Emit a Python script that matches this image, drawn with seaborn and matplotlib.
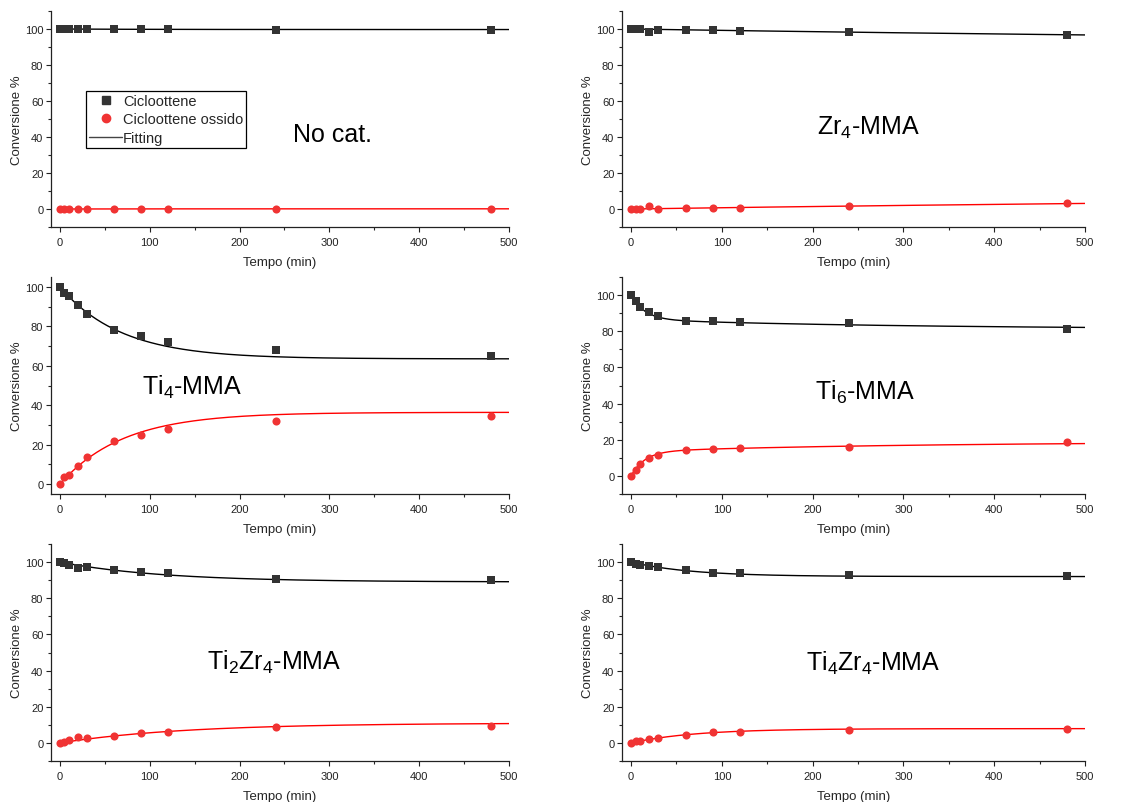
import numpy as np
import pandas as pd
import matplotlib
matplotlib.use("Agg")
import matplotlib.pyplot as plt
from matplotlib.lines import Line2D
from matplotlib.ticker import MultipleLocator
import seaborn as sns

# ---------------- data ----------------
tempo = [0, 5, 10, 20, 30, 60, 90, 120, 240, 480]

panel_labels = ["No cat.", r"Zr$\mathregular{_4}$-MMA",
                r"Ti$\mathregular{_4}$-MMA", r"Ti$\mathregular{_6}$-MMA",
                r"Ti$\mathregular{_2}$Zr$\mathregular{_4}$-MMA",
                r"Ti$\mathregular{_4}$Zr$\mathregular{_4}$-MMA"]

cicloottene = [
    [100, 100, 100, 100, 100, 100, 100, 100, 99.6, 99.6],
    [100, 100, 99.8, 98.2, 99.7, 99.5, 99.4, 99.0, 98.3, 96.6],
    [100, 97.0, 95.4, 90.9, 86.1, 78.3, 75.3, 72.1, 67.9, 65.1],
    [100, 96.9, 93.5, 90.6, 88.6, 85.6, 85.4, 84.9, 84.5, 81.2],
    [100, 99.3, 98.5, 97.0, 97.2, 95.8, 94.5, 93.9, 90.8, 90.2],
    [100, 99.1, 98.5, 98.0, 97.2, 95.4, 94.1, 93.7, 92.6, 92.1],
]
ossido = [
    [0, 0, 0, 0, 0, 0, 0, 0, 0.2, 0.2],
    [0, 0, 0, 1.6, 0.1, 0.3, 0.3, 0.8, 1.4, 3.3],
    [0, 3.6, 4.6, 9.1, 14.0, 21.8, 24.9, 28.1, 32.0, 34.7],
    [0, 3.3, 6.8, 9.8, 11.8, 14.6, 14.9, 15.3, 15.9, 19.0],
    [0, 0.7, 1.5, 3.0, 2.8, 4.1, 5.5, 6.1, 9.0, 9.6],
    [0, 0.9, 1.3, 2.2, 2.6, 4.6, 5.9, 6.3, 7.4, 7.9],
]

# fitting parameters: y = C + A1*exp(-t/t1) + A2*exp(-t/t2)
fit_cicloottene = [
    (99.7, 0.3, 100, 0, 1),
    (90.0, 10.0, 1250, 0, 1),
    (63.5, 36.5, 68, 0, 1),
    (81.1, 13.5, 15, 5.4, 300),
    (89.0, 11.0, 115, 0, 1),
    (92.0, 8.0, 67, 0, 1),
]
fit_ossido = [
    (0.1, -0.1, 100, 0, 1),
    (10.0, -10.0, 1350, 0, 1),
    (36.4, -36.4, 70, 0, 1),
    (18.9, -13.5, 15, -5.4, 300),
    (11.0, -11.0, 140, 0, 1),
    (7.9, -7.9, 71, 0, 1),
]

ylims = [(-10, 110), (-10, 110), (-5, 105), (-10, 110), (-10, 110), (-10, 110)]
label_pos = [(303, 41.7), (262, 45.6), (147, 49.4), (258, 46.7), (239, 45.2), (267, 44.7)]

# ---------------- style ----------------
sns.set_style("ticks")
plt.rcParams["font.family"] = ["Liberation Sans", "DejaVu Sans"]
plt.rcParams["mathtext.fontset"] = "custom"
plt.rcParams["mathtext.rm"] = "Liberation Sans"
plt.rcParams["mathtext.it"] = "Liberation Sans:italic"
plt.rcParams["mathtext.bf"] = "Liberation Sans:bold"

sq_color = "#333333"
red_color = "#f03333"

W, H = 1134, 803
fig = plt.figure(figsize=(W / 100, H / 100), dpi=100)

cols = [(51, 509), (622, 1085)]
rows = [(12, 228), (278, 495), (545, 762)]

t_fit = np.linspace(0, 500, 501)


def model(p, t):
    C, A1, t1, A2, t2 = p
    return C + A1 * np.exp(-t / t1) + A2 * np.exp(-t / t2)


for i in range(6):
    r, c = divmod(i, 2)
    x0, x1 = cols[c]
    ytop, ybot = rows[r]
    ax = fig.add_axes([x0 / W, 1 - ybot / H, (x1 - x0) / W, (ybot - ytop) / H])

    df_fit = pd.DataFrame({"t": t_fit,
                           "c": model(fit_cicloottene[i], t_fit),
                           "o": model(fit_ossido[i], t_fit)})
    sns.lineplot(data=df_fit, x="t", y="c", ax=ax, color="black", lw=1.0, zorder=2)
    sns.lineplot(data=df_fit, x="t", y="o", ax=ax, color="#ff0000", lw=1.0, zorder=2)

    df = pd.DataFrame({"t": tempo, "c": cicloottene[i], "o": ossido[i]})
    sns.scatterplot(data=df, x="t", y="c", ax=ax, marker="s", s=30,
                    color=sq_color, edgecolor=sq_color, linewidth=0, zorder=3)
    sns.scatterplot(data=df, x="t", y="o", ax=ax, marker="o", s=34,
                    color=red_color, edgecolor=red_color, linewidth=0, zorder=3)

    ax.set_xlim(-10, 500)
    ax.set_ylim(*ylims[i])
    ax.xaxis.set_major_locator(MultipleLocator(100))
    ax.xaxis.set_minor_locator(MultipleLocator(50))
    ax.yaxis.set_major_locator(MultipleLocator(20))
    ax.yaxis.set_minor_locator(MultipleLocator(10))
    ax.set_yticks([0, 20, 40, 60, 80, 100])
    ax.tick_params(which="major", direction="out", length=3.5, width=0.8,
                   labelsize=8, colors="#222222")
    ax.tick_params(axis="x", which="major", pad=4)
    ax.tick_params(axis="y", which="major", pad=2)
    ax.tick_params(which="minor", direction="out", length=2, width=0.8)
    for s in ["top", "right"]:
        ax.spines[s].set_visible(False)
    for s in ["left", "bottom"]:
        ax.spines[s].set_linewidth(0.9)
        ax.spines[s].set_color("#222222")
    ax.set_xlabel("Tempo (min)", fontsize=9.5, labelpad=6)
    ax.set_ylabel("Conversione %", fontsize=9.5, labelpad=1.5)

    lx, ly = label_pos[i]
    ax.text(lx, ly, panel_labels[i], fontsize=18, ha="center", va="center", color="black")

    if i == 0:
        handles = [
            Line2D([], [], marker="s", ls="none", color=sq_color, markersize=5.5),
            Line2D([], [], marker="o", ls="none", color=red_color, markersize=6),
            Line2D([], [], color="#444444", lw=1),
        ]
        leg = ax.legend(handles, ["Cicloottene", "Cicloottene ossido", "Fitting"],
                        loc="upper left", bbox_to_anchor=(86 / W, 1 - 92 / H),
                        bbox_transform=fig.transFigure, fontsize=10.5,
                        frameon=True, fancybox=False, framealpha=1,
                        edgecolor="black", handlelength=2.3, handletextpad=0.05,
                        labelspacing=0.3, borderpad=0.2, borderaxespad=0)
        leg.get_frame().set_linewidth(0.9)

fig.savefig("out.png", dpi=100)
